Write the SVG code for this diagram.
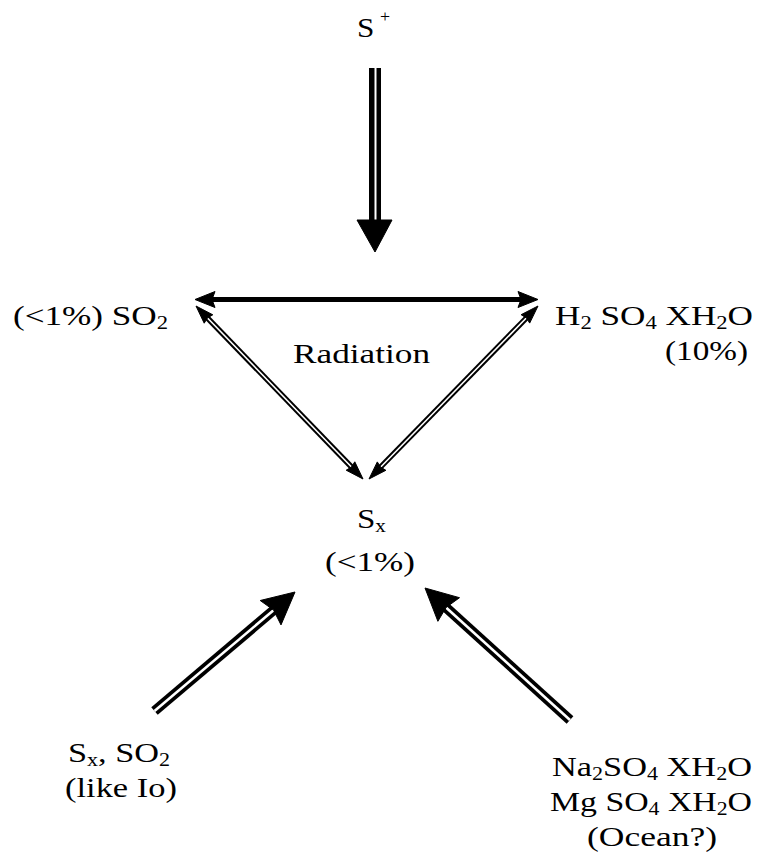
<svg xmlns="http://www.w3.org/2000/svg" width="758" height="864" viewBox="0 0 758 864">
<style>
text{font-family:'Liberation Serif','DejaVu Serif','Times New Roman',Times,serif;font-size:28px;fill:#000}
.sub{font-size:18px}
.sup{font-size:16px}
.blk{stroke:#000;fill:none}
.wht{stroke:#fff;fill:none}
.head{fill:#000;stroke:#000;stroke-width:1;stroke-linejoin:miter}
</style>
<rect width="758" height="864" fill="#fff"/>
<g id="connectors">
  <g id="arrow-splus">
    <line class="blk" x1="375" y1="68" x2="375" y2="224" stroke-width="12"/>
    <line class="wht" x1="375.5" y1="68" x2="375.5" y2="222" stroke-width="2"/>
    <polygon class="head" points="357,220 392,220 375,252"/>
  </g>
  <g id="arrow-horizontal">
    <line class="blk" x1="210" y1="299.5" x2="522" y2="299.5" stroke-width="5"/>
    <polygon class="head" points="195,299.5 215,291.5 212,299.5 215,307.5"/>
    <polygon class="head" points="538,299.5 518,291.5 521,299.5 518,307.5"/>
  </g>
  <g id="arrow-so2-sx">
    <line class="blk" x1="207" y1="317.5" x2="352" y2="467.5" stroke-width="5.5"/>
    <line class="wht" x1="207" y1="317.5" x2="352" y2="467.5" stroke-width="1.6"/>
    <polygon class="head" points="196,306 204.2,323.2 207.4,318 212.8,314.8"/>
    <polygon class="head" points="363,479 346.2,470.2 351.5,467 354.8,461.8"/>
  </g>
  <g id="arrow-h2so4-sx">
    <line class="blk" x1="527" y1="317.3" x2="380" y2="467.7" stroke-width="5.5"/>
    <line class="wht" x1="527" y1="317.3" x2="380" y2="467.7" stroke-width="1.6"/>
    <polygon class="head" points="538,306 529.7,323.1 526.5,318 521.1,314.7"/>
    <polygon class="head" points="369,479 385.9,470.3 380.5,467 377.3,461.9"/>
  </g>
  <g id="arrow-io-sx">
    <line class="blk" x1="154.5" y1="711" x2="275" y2="609" stroke-width="10"/>
    <line class="wht" x1="154.5" y1="711" x2="275" y2="609" stroke-width="2.6"/>
    <polygon class="head" points="295,592 281,624.9 273.6,610.1 260.2,600.5"/>
  </g>
  <g id="arrow-ocean-sx">
    <line class="blk" x1="570" y1="720" x2="446" y2="607.5" stroke-width="10"/>
    <line class="wht" x1="570" y1="720" x2="446" y2="607.5" stroke-width="2.6"/>
    <polygon class="head" points="425,588 459.5,597.7 446,607.5 437.9,621.3"/>
  </g>
</g>
<g id="n-splus">
  <text x="357" y="37" textLength="33" lengthAdjust="spacingAndGlyphs">S<tspan class="sup" dx="5" dy="-15">+</tspan></text>
</g>
<g id="n-so2">
  <text x="13" y="325" textLength="155" lengthAdjust="spacingAndGlyphs">(&lt;1%) SO<tspan class="sub" dy="4">2</tspan></text>
</g>
<g id="label-radiation">
  <text x="293" y="363" textLength="137" lengthAdjust="spacingAndGlyphs">Radiation</text>
</g>
<g id="n-h2so4">
  <text x="555" y="325" textLength="198" lengthAdjust="spacingAndGlyphs">H<tspan class="sub" dy="4">2</tspan><tspan dy="-4"> SO</tspan><tspan class="sub" dy="4">4</tspan><tspan dy="-4"> XH</tspan><tspan class="sub" dy="4">2</tspan><tspan dy="-4">O</tspan></text>
  <text x="665" y="360" textLength="83" lengthAdjust="spacingAndGlyphs">(10%)</text>
</g>
<g id="n-sx">
  <text x="357" y="528" textLength="29" lengthAdjust="spacingAndGlyphs">S<tspan class="sub" dy="4">x</tspan></text>
  <text x="325" y="571" textLength="90" lengthAdjust="spacingAndGlyphs">(&lt;1%)</text>
</g>
<g id="n-io">
  <text x="68" y="762" textLength="102" lengthAdjust="spacingAndGlyphs">S<tspan class="sub" dy="4">x</tspan><tspan dy="-4">, SO</tspan><tspan class="sub" dy="4">2</tspan></text>
  <text x="65" y="797" textLength="112" lengthAdjust="spacingAndGlyphs">(like Io)</text>
</g>
<g id="n-ocean">
  <text x="552" y="776" textLength="200" lengthAdjust="spacingAndGlyphs">Na<tspan class="sub" dy="4">2</tspan><tspan dy="-4">SO</tspan><tspan class="sub" dy="4">4</tspan><tspan dy="-4"> XH</tspan><tspan class="sub" dy="4">2</tspan><tspan dy="-4">O</tspan></text>
  <text x="550" y="811" textLength="202" lengthAdjust="spacingAndGlyphs">Mg SO<tspan class="sub" dy="4">4</tspan><tspan dy="-4"> XH</tspan><tspan class="sub" dy="4">2</tspan><tspan dy="-4">O</tspan></text>
  <text x="587" y="846" textLength="130" lengthAdjust="spacingAndGlyphs">(Ocean?)</text>
</g>
</svg>
